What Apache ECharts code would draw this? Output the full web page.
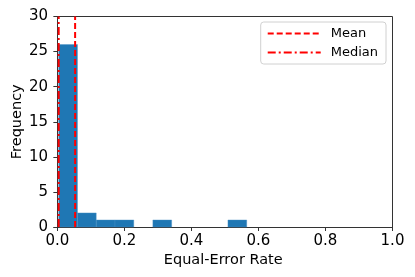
<!DOCTYPE html>
<html><head><meta charset="utf-8">
<script src="https://cdn.jsdelivr.net/npm/echarts@6/dist/echarts.min.js"></script>
<style>html,body{margin:0;padding:0;background:#fff}#c{width:415px;height:277px}</style>
</head><body><div id="c"></div>
<script>
// Histogram bin edges and counts
var binLeft  = [0.004, 0.060, 0.116, 0.172, 0.228, 0.285, 0.341, 0.397, 0.453, 0.509];
var binRight = [0.060, 0.116, 0.172, 0.228, 0.285, 0.341, 0.397, 0.453, 0.509, 0.565];
var counts   = [26, 2, 1, 1, 0, 1, 0, 0, 0, 1];
var meanValue = 0.053;
var medianValue = 0.004;
var xTicks = [0, 0.2, 0.4, 0.6, 0.8, 1.0];
var yTicks = [0, 5, 10, 15, 20, 25, 30];

var bins = binLeft.map(function (l, i) { return [l, binRight[i], counts[i]]; });
var font = 'DejaVu Sans';
var chart = echarts.init(document.getElementById('c'), null, {renderer: 'canvas'});
chart.setOption({
  animation: false,
  textStyle: {fontFamily: font},
  grid: {left: 54, right: 22.5, top: 16.5, bottom: 50, containLabel: false, outerBoundsMode: 'none'},
  legend: {
    orient: 'vertical', right: 29, top: 22,
    padding: [5, 8, 5, 6], itemGap: 6, itemWidth: 53, itemHeight: 14,
    backgroundColor: '#fff', borderColor: '#d0d0d0', borderWidth: 1, borderRadius: 3,
    itemStyle: {color: 'transparent', borderWidth: 0, opacity: 0},
    textStyle: {fontFamily: font, fontSize: 13, color: '#000', padding: [0, 0, 0, 5]},
    data: ['Mean', 'Median']
  },
  xAxis: {
    type: 'value', min: -0.01, max: 1.0,
    name: 'Equal-Error Rate', nameLocation: 'middle', nameGap: 26, nameMoveOverlap: false,
    nameTextStyle: {fontFamily: font, fontSize: 14.5, color: '#000'},
    axisLine: {onZero: false, lineStyle: {color: '#333', width: 1}},
    axisTick: {show: true, inside: false, length: 4, customValues: xTicks, lineStyle: {color: '#333'}},
    axisLabel: {customValues: xTicks, margin: 7, fontFamily: font, fontSize: 15, color: '#000',
      formatter: function (v) { return v.toFixed(1); }},
    splitLine: {show: false}
  },
  yAxis: {
    type: 'value', min: 0, max: 30, interval: 5,
    name: 'Frequency', nameLocation: 'middle', nameGap: 29, nameMoveOverlap: false,
    nameTextStyle: {fontFamily: font, fontSize: 14.5, color: '#000'},
    axisLine: {show: true, lineStyle: {color: '#333', width: 1}},
    axisTick: {show: true, inside: false, length: 4, customValues: yTicks, lineStyle: {color: '#333'}},
    axisLabel: {customValues: yTicks, margin: 6, fontFamily: font, fontSize: 15, color: '#000'},
    splitLine: {show: false}
  },
  series: [
    {
      type: 'custom', name: 'hist', data: bins,
      encode: {x: [0, 1], y: 2},
      renderItem: function (params, api) {
        var x0 = api.value(0), x1 = api.value(1), c = api.value(2);
        if (!c) return null;
        var p0 = api.coord([x0, c]);
        var p1 = api.coord([x1, 0]);
        return {type: 'rect',
          shape: {x: p0[0], y: p0[1], width: p1[0] - p0[0], height: p1[1] - p0[1]},
          style: {fill: '#1f77b4', stroke: '#4a90c4', lineWidth: 0.4}};
      },
      z: 1
    },
    {
      type: 'line', name: 'Mean', data: [[meanValue, 0], [meanValue, 30]],
      symbol: 'none', color: '#ff0000',
      lineStyle: {color: '#ff0000', width: 2, type: [6, 3]}, z: 3
    },
    {
      type: 'line', name: 'Median', data: [[medianValue, 0], [medianValue, 30]],
      symbol: 'none', color: '#ff0000',
      lineStyle: {color: '#ff0000', width: 2, type: [8, 3, 2, 3]}, z: 3
    },
    {
      type: 'line', data: [[-0.01, 30], [1.0, 30]], symbol: 'none', silent: true,
      lineStyle: {color: '#333', width: 1}, z: 2, legendHoverLink: false
    },
    {
      type: 'line', data: [[1.0, 0], [1.0, 30]], symbol: 'none', silent: true,
      lineStyle: {color: '#333', width: 1}, z: 2, legendHoverLink: false
    }
  ]
});
</script></body></html>
